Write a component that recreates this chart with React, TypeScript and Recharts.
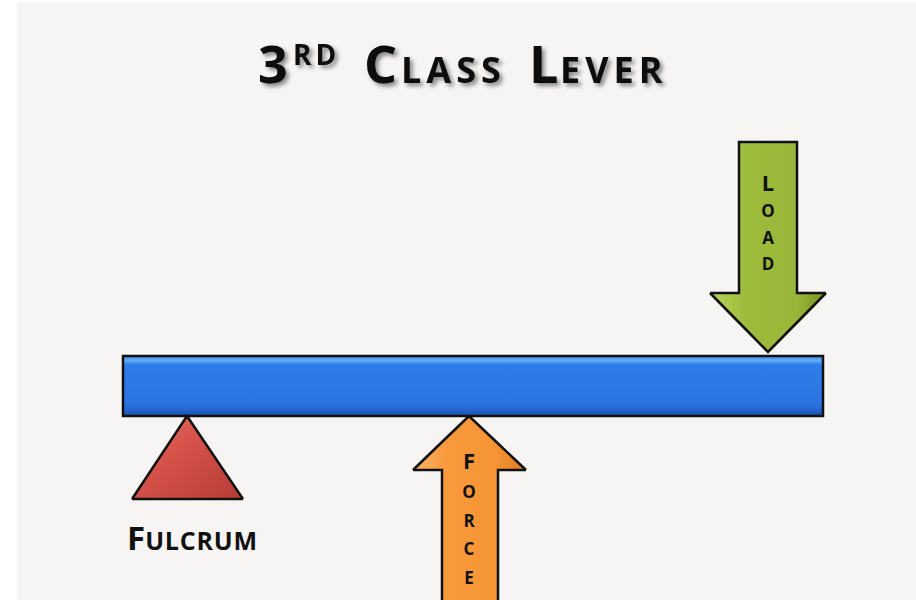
import {
  ComposedChart,
  Area,
  Scatter,
  ReferenceArea,
  XAxis,
  YAxis,
} from "recharts";

// diagram units: 1 unit = 10px, origin at the beam's lower-left corner
const beam = [{ x1: 0, x2: 70, y1: 0, y2: 6 }];

const fulcrum = [
  { x: 0.9, span: [-8.3, -8.3] },
  { x: 6.4, span: [-8.3, 0] },
  { x: 12.0, span: [-8.3, -8.3] },
];

const loadArrow = [
  { x: 58.7, span: [12.3, 12.3] },
  { x: 61.6, span: [9.35, 12.3] },
  { x: 61.6, span: [9.35, 27.4] },
  { x: 64.5, span: [6.4, 27.4] },
  { x: 67.4, span: [9.35, 27.4] },
  { x: 67.4, span: [9.35, 12.3] },
  { x: 70.3, span: [12.3, 12.3] },
];

const forceArrow = [
  { x: 29.0, span: [-5.4, -5.4] },
  { x: 31.9, span: [-5.4, -2.6] },
  { x: 31.9, span: [-20, -2.6] },
  { x: 34.6, span: [-20, 0] },
  { x: 37.5, span: [-20, -2.75] },
  { x: 37.5, span: [-5.4, -2.75] },
  { x: 40.3, span: [-5.4, -5.4] },
];

// letters written down each arrow shaft
const loadWord = ["L", "O", "A", "D"];
const loadLetterY = [23.4, 20.6, 17.9, 15.3];
const loadLetterX = 64.5;

const forceWord = ["F", "O", "R", "C", "E"];
const forceLetterY = [-4.4, -7.5, -10.4, -13.2, -16.1];
const forceLetterX = 34.6;

const loadLetters = loadWord.map((t, i) => ({ x: loadLetterX, y: loadLetterY[i], t, i }));
const forceLetters = forceWord.map((t, i) => ({ x: forceLetterX, y: forceLetterY[i], t, i }));

const font = "'Open Sans', 'DejaVu Sans', sans-serif";

// small caps: first letter full size, the rest smaller
const letterShape = (p: any) => (
  <text
    x={p.cx}
    y={p.cy}
    textAnchor="middle"
    dominantBaseline="central"
    fontFamily={font}
    fontWeight={700}
    fontSize={p.payload.i === 0 ? 22 : 17}
    fill="#111"
  >
    {p.payload.t}
  </text>
);

export default function App() {
  return (
    <div
      style={{
        position: "absolute",
        left: 0,
        top: 0,
        width: 916,
        height: 600,
        background: "#ffffff",
      }}
    >
      <div
        style={{
          position: "absolute",
          left: 17,
          top: 2,
          width: 899,
          height: 598,
          background: "#f6f5f4",
        }}
      />
      <ComposedChart
        width={916}
        height={600}
        margin={{ top: 0, right: 0, bottom: 0, left: 0 }}
        style={{ position: "absolute", left: 0, top: 0 }}
      >
        <defs>
          <linearGradient id="beamFill" x1="0" y1="0" x2="0" y2="1">
            <stop offset="0%" stopColor="#3f8cf0" />
            <stop offset="8%" stopColor="#66abf8" />
            <stop offset="14%" stopColor="#2f7de8" />
            <stop offset="80%" stopColor="#2b74e2" />
            <stop offset="92%" stopColor="#2262c8" />
            <stop offset="100%" stopColor="#1a4fa6" />
          </linearGradient>
          <linearGradient id="redFill" x1="0" y1="0" x2="1" y2="1">
            <stop offset="0%" stopColor="#e8756b" />
            <stop offset="40%" stopColor="#d6534a" />
            <stop offset="100%" stopColor="#b53d36" />
          </linearGradient>
          <linearGradient id="greenFill" x1="0" y1="0" x2="1" y2="0">
            <stop offset="0%" stopColor="#b8d65c" />
            <stop offset="30%" stopColor="#9dbc3c" />
            <stop offset="75%" stopColor="#98b738" />
            <stop offset="100%" stopColor="#78951f" />
          </linearGradient>
          <linearGradient id="orangeFill" x1="0" y1="0" x2="1" y2="0">
            <stop offset="0%" stopColor="#fbb36a" />
            <stop offset="30%" stopColor="#f89a3c" />
            <stop offset="75%" stopColor="#f69434" />
            <stop offset="100%" stopColor="#d97a1e" />
          </linearGradient>
          <filter id="shadow" x="-10%" y="-20%" width="120%" height="150%">
            <feDropShadow
              dx="3"
              dy="3"
              stdDeviation="2"
              floodColor="#000"
              floodOpacity="0.45"
            />
          </filter>
        </defs>
        <XAxis
          dataKey="x"
          type="number"
          domain={[-12.3, 79.3]}
          allowDataOverflow
          hide
        />
        <YAxis type="number" domain={[-18.4, 41.6]} allowDataOverflow hide />

        {beam.map((b, i) => (
          <ReferenceArea
            key={i}
            x1={b.x1}
            x2={b.x2}
            y1={b.y1}
            y2={b.y2}
            fill="url(#beamFill)"
            fillOpacity={1}
            stroke="#111"
            strokeWidth={2.5}
            ifOverflow="visible"
          />
        ))}

        <Area
          data={fulcrum}
          dataKey="span"
          type="linear"
          fill="url(#redFill)"
          fillOpacity={1}
          stroke="#111"
          strokeWidth={2.5}
          isAnimationActive={false}
          activeDot={false}
        />
        <Area
          data={loadArrow}
          dataKey="span"
          type="linear"
          fill="url(#greenFill)"
          fillOpacity={1}
          stroke="#111"
          strokeWidth={2.5}
          isAnimationActive={false}
          activeDot={false}
        />
        <Area
          data={forceArrow}
          dataKey="span"
          type="linear"
          fill="url(#orangeFill)"
          fillOpacity={1}
          stroke="#111"
          strokeWidth={2.5}
          isAnimationActive={false}
          activeDot={false}
        />

        <Scatter
          data={loadLetters}
          dataKey="y"
          shape={letterShape}
          isAnimationActive={false}
        />
        <Scatter
          data={forceLetters}
          dataKey="y"
          shape={letterShape}
          isAnimationActive={false}
        />

        <text
          y={83}
          fontFamily={font}
          fontWeight={700}
          fontSize={52}
          fill="#0a0a0a"
          filter="url(#shadow)"
        >
          <tspan x={258}>3</tspan>
          <tspan x={293} y={65} fontSize={28} letterSpacing={4}>
            RD
          </tspan>
          <tspan x={364} y={83} fontSize={52}>
            C
          </tspan>
          <tspan x={401} fontSize={36} letterSpacing={5}>
            LASS
          </tspan>
          <tspan x={529} fontSize={52}>
            L
          </tspan>
          <tspan x={560} fontSize={36} letterSpacing={5}>
            EVER
          </tspan>
        </text>

        <text
          x={127}
          y={550}
          fontFamily={font}
          fontWeight={700}
          fontSize={33}
          fill="#111"
        >
          F<tspan fontSize={25} letterSpacing={0.8}>ULCRUM</tspan>
        </text>
      </ComposedChart>
    </div>
  );
}
